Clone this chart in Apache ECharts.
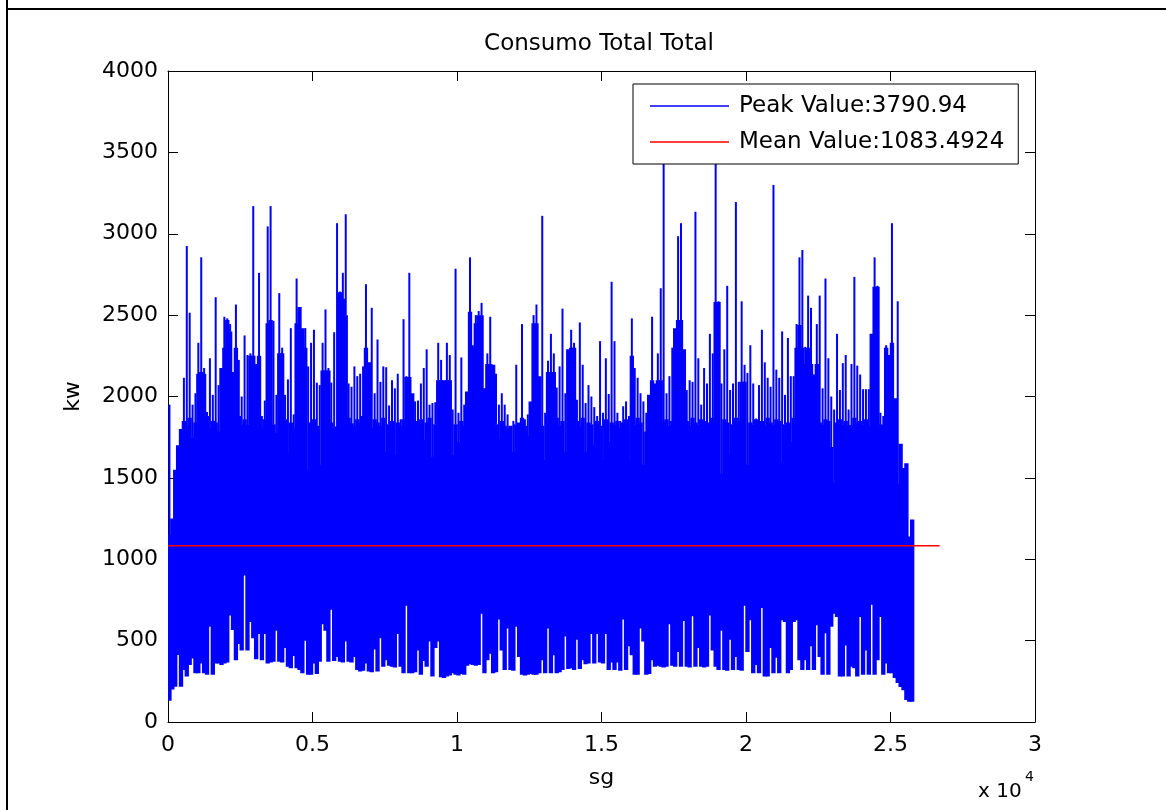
<!DOCTYPE html>
<html>
<head>
<meta charset="utf-8">
<title>Consumo Total Total</title>
<script src="https://cdn.jsdelivr.net/npm/echarts@6.0.0/dist/echarts.min.js"></script>
<style>
  html, body { margin: 0; padding: 0; background: #fff; }
  #chart { width: 1166px; height: 810px; }
</style>
</head>
<body>
<div id="chart"></div>
<script>
// Power consumption record, summarised in 100 s bins. For every bin:
// the lowest reading, the level up to which readings fill the bin densely,
// and the highest reading (kW). Bin i covers [i*100, (i+1)*100) seconds.
const BIN_SECONDS = 100;

const binHigh = [
  1950,1250,1550,1700,1800,2115,2925,2515,1950,2020,
  2330,2855,2175,1905,2235,2010,2610,2070,2175,2490,
  2480,2445,2150,2565,2225,2000,2375,2255,2265,3170,
  2200,2760,1880,1975,3045,3170,2465,2010,2635,2300,
  2010,2105,2420,1890,2725,2550,2420,2420,2185,2330,
  2410,2085,2070,2330,2535,2175,2085,2395,3065,2645,
  2760,3120,2080,2060,2185,2125,2140,2185,2690,2210,
  2545,2020,2350,2090,2185,2180,1945,2100,2050,2140,
  1860,2475,2125,2760,2020,1970,1975,2080,2175,2290,
  1950,1960,1965,2330,2225,2100,2330,2255,1920,2785,
  1900,2240,1950,2030,2855,2315,2500,2525,2575,2050,
  2265,2490,2195,2140,1950,2020,1950,1890,1820,1850,
  2195,1840,2445,1860,1890,1970,2500,2565,2125,3110,
  1900,2220,2385,2265,2055,2185,2540,2020,2290,2410,
  2330,1980,2455,2195,1960,2070,2000,1935,1880,2340,
  1900,2235,2015,2705,2340,1900,1850,1940,1970,1880,
  2480,2175,2115,2020,1970,1900,2010,2490,2080,2265,
  2665,3560,2020,2125,2300,2420,2985,3065,2290,2040,
  2100,2090,3135,2235,1950,2175,2080,2385,2265,3790.94,
  2585,2080,2290,2680,2040,2080,3195,2090,2585,2195,
  2145,2315,2080,1865,2070,2410,2210,2115,2060,3300,
  2165,2115,2400,2010,2360,2125,2125,2445,2855,2900,
  2305,2620,2545,2135,2445,2620,2050,2725,2235,2000,
  1920,2385,2040,2205,2255,1920,2200,2735,2190,2135,
  2045,2045,2045,2385,2855,2680,1900,1880,2315,2255,
  3065,1990,2585,1710,1560,1590,1140,1245
];

const binDense = [
  1150,1250,1550,1700,1800,1850,1820,1870,1745,1840,
  2140,2150,2140,1880,1810,1850,1840,1785,2175,2300,
  2470,2400,2150,2300,1880,1830,1860,1825,2250,2250,
  2200,2250,1810,1860,2450,2470,1830,1775,2265,2265,
  1860,1660,1840,1805,2450,2550,2420,2300,1550,1840,
  1860,1820,1580,2160,2160,2160,1840,1810,1815,2640,
  2600,2500,1870,1835,1820,1860,1840,1880,2300,2210,
  1810,1860,1840,1820,1870,1660,1830,1850,1640,1840,
  1820,1860,2120,2120,2020,1850,1810,1860,1735,1840,
  1870,1630,1830,2100,2100,2100,2100,2100,1640,1830,
  1720,1850,1820,2030,2520,2300,2450,2500,2500,2050,
  2200,2200,2195,1830,1745,1850,1820,1800,1840,1660,
  1830,1850,1870,1820,1755,1970,2450,2450,2125,1820,
  1615,2150,2150,2150,1870,1820,1850,1660,2290,2300,
  2300,1850,1820,1870,1660,1840,1830,1700,1850,1820,
  1615,1860,1720,1840,1830,1850,1810,1840,1860,1600,
  2250,1830,1870,1840,1580,1785,2010,2100,2080,2100,
  2100,1845,1860,1820,1850,2420,2470,2470,2290,1850,
  1820,1870,1840,1830,1860,1850,1820,1840,1870,2580,
  2580,1525,1860,1840,1640,1830,1870,1850,2090,2090,
  1580,1840,1830,1860,1765,1850,1820,1870,1840,1830,
  1860,1850,1600,1830,1840,1720,1870,2300,2440,2300,
  2200,2300,2200,2133,2200,1840,1830,1860,1850,1690,
  1480,1840,1860,1830,1850,1820,1825,1870,1840,1850,
  1830,1860,1820,2385,2675,2675,1830,1825,2300,2255,
  2330,1990,1466,1710,1560,1590,1140,1245
];

const binLow = [
  130,200,217,412,217,320,280,350,390,300,
  300,360,300,290,585,290,360,360,350,360,
  365,655,565,380,480,440,900,440,615,515,
  385,540,380,540,360,365,370,560,370,365,
  455,340,330,405,330,320,300,500,290,290,
  360,295,370,600,560,370,690,375,400,370,
  365,495,370,365,400,320,310,315,360,310,
  305,445,310,515,340,380,345,340,335,540,
  340,300,715,300,300,305,440,290,375,340,
  495,280,455,495,275,270,280,285,300,290,
  285,295,290,345,355,350,345,350,665,300,
  380,420,300,305,630,440,320,575,320,315,
  585,400,290,285,290,295,290,290,300,380,
  300,575,300,410,300,305,320,525,325,330,
  320,505,325,380,355,360,540,360,540,365,
  360,540,320,365,320,365,315,630,320,465,
  410,290,290,575,495,290,295,380,340,345,
  340,335,340,600,345,340,430,340,620,340,
  335,650,340,455,340,335,340,655,440,340,
  320,560,320,315,505,320,400,320,315,715,
  430,625,300,350,300,700,280,280,455,300,
  395,300,625,615,300,320,615,625,380,320,
  380,320,465,320,595,400,290,545,290,585,
  665,645,280,280,470,280,340,330,280,645,
  290,440,290,720,290,380,645,290,360,300,
  300,270,240,215,195,135,125,125
];

// Mean of the whole record and the time span its reference line covers.
const MEAN_VALUE = 1083.4924;
const meanSpan = [0, 26700];

// Axis ranges: [min, max, interval]; x in seconds, shown in units of 10^4.
const xRange = [0, 30000, 5000];
const yRange = [0, 4000, 500];

const PEAK_VALUE = Math.max.apply(null, binHigh);
const peakName = 'Peak Value:' + PEAK_VALUE;
const meanName = 'Mean Value:' + MEAN_VALUE;

// Styling
const FONT = 'DejaVu Sans';
const BLUE = '#0000ff';
const RED = '#ff0000';

const binData = binLow.map((lo, i) => [(i + 0.5) * BIN_SECONDS, lo, binDense[i], binHigh[i]]);

// Each bin: a solid block from the lowest reading to the dense level,
// and a thin stroke from there up to the bin's highest reading.
function renderBin(params, api) {
  const t = api.value(0);
  const lo = api.value(1);
  const dense = Math.min(api.value(2), api.value(3));
  const hi = api.value(3);
  const w = api.size([BIN_SECONDS, 0])[0];
  const pLo = api.coord([t, lo]);
  const pMid = api.coord([t, dense]);
  const children = [{
    type: 'rect',
    shape: { x: pLo[0] - w * 0.75, y: pMid[1], width: w * 1.5, height: pLo[1] - pMid[1] },
    style: { fill: BLUE }
  }];
  if (hi > dense) {
    const pHi = api.coord([t, hi]);
    children.push({
      type: 'rect',
      shape: { x: pLo[0] - 1, y: pHi[1], width: 2, height: pMid[1] - pHi[1] + 0.5 },
      style: { fill: BLUE }
    });
  }
  return { type: 'group', children: children };
}

const axisLineStyle = { show: true, onZero: false, lineStyle: { color: '#000', width: 1 } };
const tickStyle = { show: true, inside: true, length: 10, lineStyle: { color: '#000', width: 1 } };
const labelStyle = { color: '#000', fontSize: 22, fontFamily: FONT };

const chart = echarts.init(document.getElementById('chart'), null, { renderer: 'canvas' });

chart.setOption({
  animation: false,
  backgroundColor: '#fff',
  title: {
    text: 'Consumo Total Total',
    left: 594,
    top: 28,
    textAlign: 'center',
    textStyle: { color: '#000', fontSize: 23, fontWeight: 'normal', fontFamily: FONT }
  },
  grid: { left: 168, right: 131, top: 71, bottom: 88, containLabel: false },
  legend: {
    orient: 'vertical',
    left: 633,
    top: 84,
    padding: [9, 14, 9, 17],
    itemGap: 10,
    itemWidth: 79,
    itemHeight: 1.5,
    backgroundColor: '#fff',
    borderColor: '#000',
    borderWidth: 1,
    borderRadius: 0,
    selectedMode: false,
    textStyle: { color: '#000', fontSize: 23, fontFamily: FONT, lineHeight: 26, padding: [0, 0, 0, 5] },
    data: [
      { name: peakName, icon: 'rect' },
      { name: meanName, icon: 'rect' }
    ]
  },
  xAxis: [
    {
      type: 'value', position: 'bottom',
      min: xRange[0], max: xRange[1], interval: xRange[2],
      axisLine: axisLineStyle, axisTick: tickStyle,
      axisLabel: Object.assign({ margin: 12, formatter: v => String(v / 10000) }, labelStyle),
      splitLine: { show: false },
      name: 'sg', nameLocation: 'middle', nameGap: 45,
      nameTextStyle: { color: '#000', fontSize: 22, fontFamily: FONT }
    },
    {
      type: 'value', position: 'top',
      min: xRange[0], max: xRange[1], interval: xRange[2],
      axisLine: axisLineStyle, axisTick: tickStyle,
      axisLabel: { show: false }, splitLine: { show: false }
    }
  ],
  yAxis: [
    {
      type: 'value', position: 'left',
      min: yRange[0], max: yRange[1], interval: yRange[2],
      axisLine: axisLineStyle, axisTick: tickStyle,
      axisLabel: Object.assign({ margin: 10, formatter: v => String(v) }, labelStyle),
      splitLine: { show: false },
      name: 'kw', nameLocation: 'middle', nameGap: 84, nameRotate: 90,
      nameTextStyle: { color: '#000', fontSize: 22, fontFamily: FONT }
    },
    {
      type: 'value', position: 'right',
      min: yRange[0], max: yRange[1], interval: yRange[2],
      axisLine: axisLineStyle, axisTick: tickStyle,
      axisLabel: { show: false }, splitLine: { show: false }
    }
  ],
  series: [
    {
      name: peakName,
      type: 'custom',
      xAxisIndex: 0, yAxisIndex: 0,
      renderItem: renderBin,
      encode: { x: 0, y: [1, 3] },
      itemStyle: { color: BLUE },
      clip: true,
      silent: true,
      z: 2,
      data: binData
    },
    {
      name: meanName,
      type: 'line',
      xAxisIndex: 0, yAxisIndex: 0,
      showSymbol: false,
      symbol: 'none',
      lineStyle: { color: RED, width: 1.5 },
      itemStyle: { color: RED },
      silent: true,
      z: 3,
      data: [[meanSpan[0], MEAN_VALUE], [meanSpan[1], MEAN_VALUE]]
    }
  ],
  graphic: [
    { type: 'line', shape: { x1: 7, y1: 0, x2: 7, y2: 810 }, style: { stroke: '#000', lineWidth: 2 }, silent: true },
    { type: 'line', shape: { x1: 7, y1: 9, x2: 1166, y2: 9 }, style: { stroke: '#000', lineWidth: 2 }, silent: true },
    {
      type: 'text', x: 978, y: 792, silent: true,
      style: { text: 'x 10', fill: '#000', font: '20px "DejaVu Sans"', verticalAlign: 'middle', align: 'left' }
    },
    {
      type: 'text', x: 1025, y: 777, silent: true,
      style: { text: '4', fill: '#000', font: '14px "DejaVu Sans"', verticalAlign: 'middle', align: 'left' }
    }
  ]
});
</script>
</body>
</html>
